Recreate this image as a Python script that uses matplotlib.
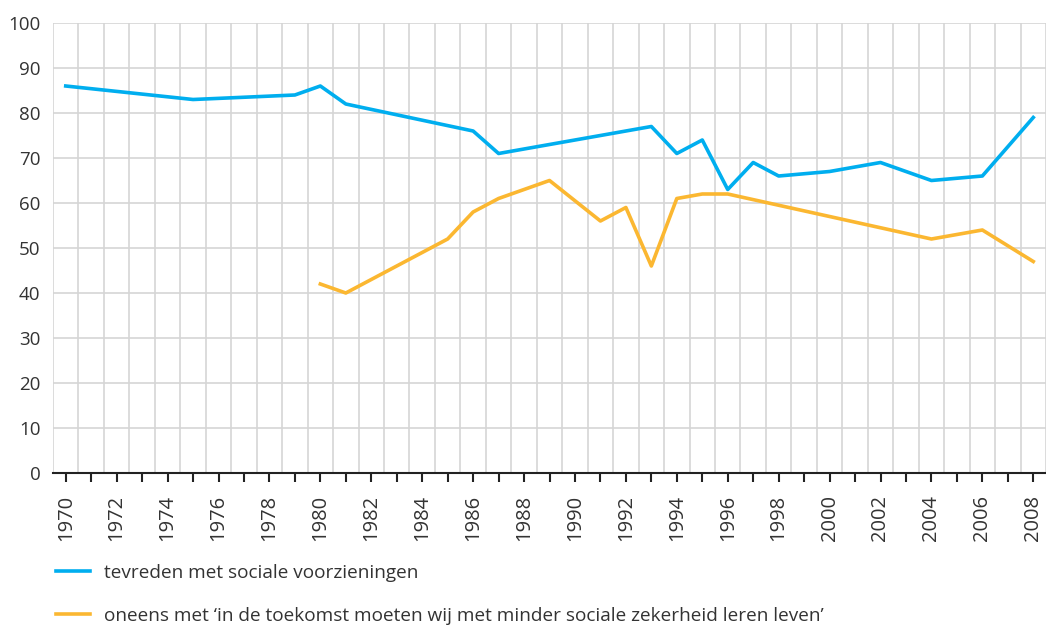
import matplotlib
matplotlib.use('Agg')
import matplotlib.pyplot as plt

plt.rcParams['font.family'] = ['Open Sans', 'DejaVu Sans']

# tevreden met sociale voorzieningen
blue_years = [1970, 1975, 1979, 1980, 1981, 1986, 1987, 1993, 1994, 1995, 1996,
              1997, 1998, 2000, 2002, 2004, 2006, 2008]
blue_vals = [86, 83, 84, 86, 82, 76, 71, 77, 71, 74, 63,
             69, 66, 67, 69, 65, 66, 79]

# oneens met 'in de toekomst moeten wij met minder sociale zekerheid leren leven'
orange_years = [1980, 1981, 1985, 1986, 1987, 1989, 1991, 1992, 1993, 1994, 1995,
                1996, 2004, 2006, 2008]
orange_vals = [42, 40, 52, 58, 61, 65, 56, 59, 46, 61, 62,
               62, 52, 54, 47]

labels = ['tevreden met sociale voorzieningen',
          'oneens met \u2018in de toekomst moeten wij met minder sociale zekerheid leren leven\u2019']

years = list(range(1970, 2009))
year_labels = [str(y) if y % 2 == 0 else '' for y in years]

blue = '#00AEEF'
orange = '#FBB731'
grid = '#D5D5D5'
txt = '#333333'

fig = plt.figure(figsize=(10.46, 6.26), dpi=100)
ax = fig.add_axes([53 / 1046, 153 / 626, 993 / 1046, 450 / 626])

ax.plot(blue_years, blue_vals, color=blue, lw=2.6, label=labels[0], zorder=3)
ax.plot(orange_years, orange_vals, color=orange, lw=2.6, label=labels[1], zorder=3)

ax.set_xlim(1969.5, 2008.5)
ax.set_ylim(0, 100)

ax.set_yticks(range(0, 101, 10))
ax.set_xticks(years)
ax.set_xticklabels(year_labels, rotation=90)
ax.set_xticks([y + 0.5 for y in range(1969, 2009)], minor=True)

ax.grid(axis='y', which='major', color=grid, lw=1.2, zorder=0)
ax.grid(axis='x', which='minor', color=grid, lw=1.2, zorder=0)
ax.grid(axis='x', which='major', visible=False)

for s in ['top', 'right', 'left']:
    ax.spines[s].set_visible(False)
ax.spines['bottom'].set_color('#222222')
ax.spines['bottom'].set_linewidth(1.5)
ax.spines['bottom'].set_zorder(4)

ax.tick_params(axis='x', which='major', direction='out', length=6.5, width=1.5,
               color='#222222', pad=9, labelsize=14.5, labelcolor=txt)
ax.tick_params(axis='x', which='minor', length=0)
ax.tick_params(axis='y', length=0, pad=9, labelsize=13.5, labelcolor=txt)

fig.legend(loc='upper left', bbox_to_anchor=(56 / 1046, 1 - 564 / 626),
           frameon=False, fontsize=13.7, labelcolor=txt, handlelength=1.8,
           handletextpad=0.7, labelspacing=1.3, borderpad=0, borderaxespad=0)

fig.savefig('out.png', dpi=100)
